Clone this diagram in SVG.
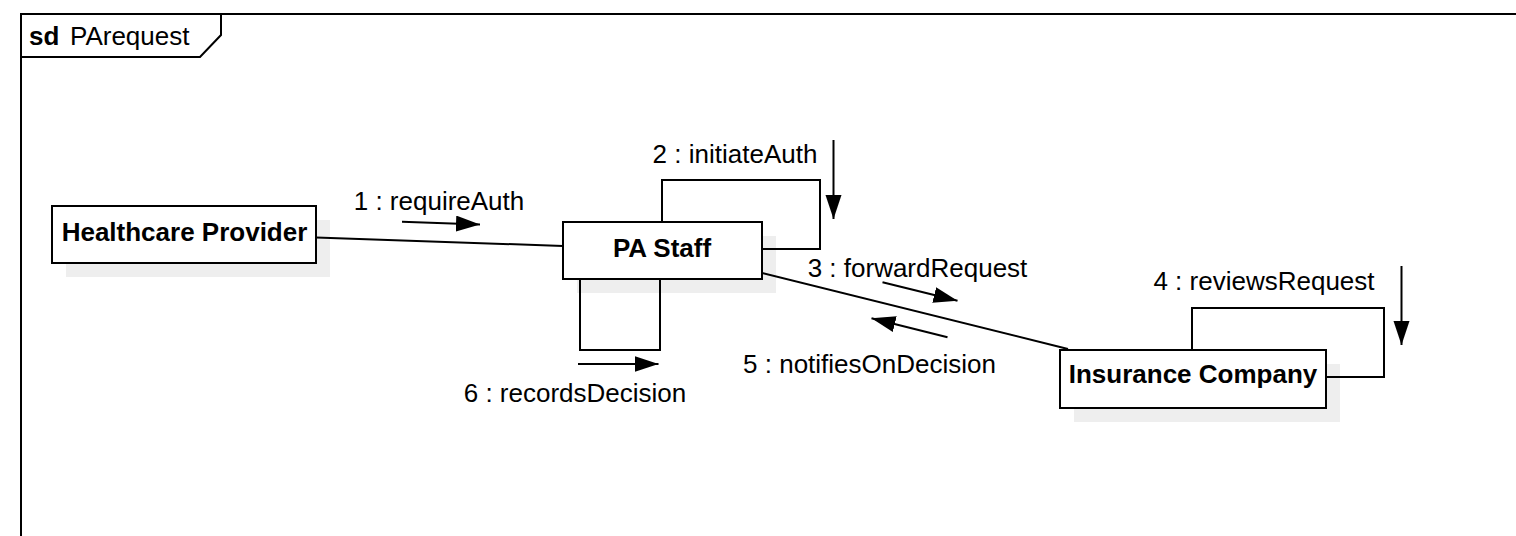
<svg xmlns="http://www.w3.org/2000/svg" width="1516" height="536" viewBox="0 0 1516 536">
<style>
.ln{fill:none;stroke:#000;stroke-width:2}
.shadow{fill:#eeeeee;stroke:none}
.box{fill:#fff;stroke:#000;stroke-width:2}
.lbl{font-family:"Liberation Sans",Arial,sans-serif;font-size:26px;fill:#000}
.name{font-family:"Liberation Sans",Arial,sans-serif;font-size:26px;font-weight:bold;fill:#000;text-anchor:middle}
.msg{text-anchor:middle}
</style>
<defs>
<marker id="ah" markerUnits="userSpaceOnUse" markerWidth="26" markerHeight="18" refX="24" refY="8" orient="auto" viewBox="0 0 26 18">
<path d="M0,0 L24,8 L0,16 z" fill="#000"/>
</marker>
</defs>
<g id="frame">
<rect x="21" y="14" width="1600" height="600" class="ln"/>
<path d="M21,57 H200 L221,35 V14" class="ln"/>
<text x="29" y="45" class="lbl" font-weight="bold">sd</text>
<text x="70" y="45" class="lbl">PArequest</text>
</g>
<g id="shadows">
<rect x="66" y="220" width="264" height="57" class="shadow"/>
<rect x="577" y="236" width="199" height="57" class="shadow"/>
<rect x="1074" y="364" width="266" height="58" class="shadow"/>
</g>
<g id="connectors">
<line x1="316" y1="237.5" x2="563" y2="246" class="ln"/>
<line x1="762" y1="273" x2="1068" y2="349" class="ln"/>
<path d="M662,222 V180 H820 V249 H762" class="ln"/>
<path d="M580,279 V350 H660 V279" class="ln"/>
<path d="M1192,350 V308 H1384 V377 H1326" class="ln"/>
<line x1="402" y1="221.7" x2="480" y2="224.4" class="ln" marker-end="url(#ah)"/>
<line x1="833.5" y1="140" x2="833.5" y2="219" class="ln" marker-end="url(#ah)"/>
<line x1="882.5" y1="282.3" x2="957.5" y2="300.7" class="ln" marker-end="url(#ah)"/>
<line x1="1401.5" y1="266" x2="1401.5" y2="345" class="ln" marker-end="url(#ah)"/>
<line x1="947.5" y1="337.3" x2="871.5" y2="318.3" class="ln" marker-end="url(#ah)"/>
<line x1="578" y1="364" x2="658.5" y2="364" class="ln" marker-end="url(#ah)"/>
<text x="439" y="210" class="lbl msg">1 : requireAuth</text>
<text x="735" y="163" class="lbl msg">2 : initiateAuth</text>
<text x="917.5" y="277" class="lbl msg">3 : forwardRequest</text>
<text x="1264" y="290" class="lbl msg">4 : reviewsRequest</text>
<text x="869.5" y="373" class="lbl msg">5 : notifiesOnDecision</text>
<text x="575" y="402" class="lbl msg">6 : recordsDecision</text>
</g>
<g id="healthcare-provider">
<rect x="52" y="206" width="264" height="57" class="box"/>
<text x="184.5" y="241" class="name">Healthcare Provider</text>
</g>
<g id="pa-staff">
<rect x="563" y="222" width="199" height="57" class="box"/>
<text x="662" y="257" class="name">PA Staff</text>
</g>
<g id="insurance-company">
<rect x="1060" y="350" width="266" height="58" class="box"/>
<text x="1193" y="383" class="name">Insurance Company</text>
</g>
</svg>
